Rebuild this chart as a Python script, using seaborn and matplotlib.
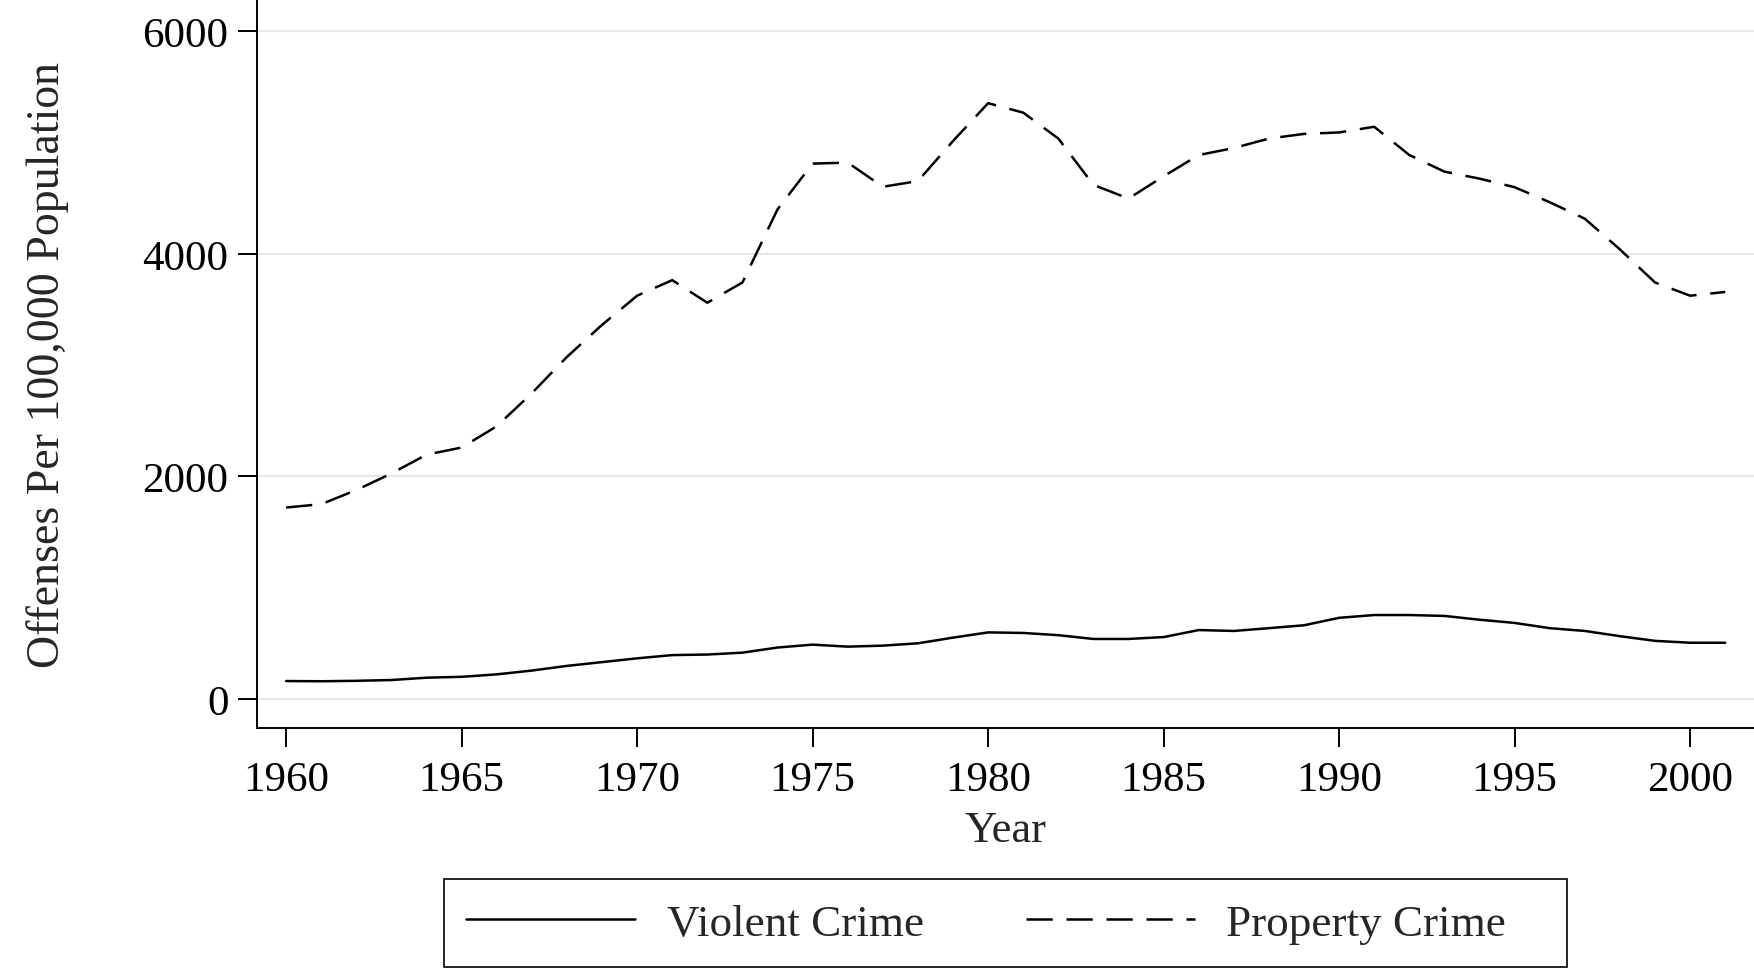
import matplotlib
import matplotlib.pyplot as plt
import pandas as pd
import seaborn as sns
from matplotlib.patches import Rectangle

matplotlib.use("Agg")

# --- DATA ---
YEARS = list(range(1960, 2002))

VIOLENT = [
    162, 160, 164, 171, 192, 200, 222, 256, 298, 332,
    366, 395, 400, 417, 463, 489, 471, 480, 501, 552,
    599, 594, 574, 540, 540, 557, 620, 612, 637, 663,
    730, 755, 755, 747, 713, 684, 637, 612, 565, 523,
    506, 506,
]

PROPERTY = [
    1721, 1751, 1878, 2027, 2196, 2260, 2451, 2748, 3074, 3362,
    3624, 3764, 3561, 3743, 4400, 4811, 4820, 4603, 4654, 5014,
    5354, 5269, 5036, 4620, 4497, 4697, 4888, 4951, 5036, 5078,
    5091, 5142, 4888, 4739, 4676, 4599, 4464, 4316, 4040, 3743,
    3624, 3658,
]

SERIES = ["Violent Crime", "Property Crime"]
Y_TICKS = [0, 2000, 4000, 6000]
X_TICKS = [1960, 1965, 1970, 1975, 1980, 1985, 1990, 1995, 2000]
# -------------------------------------

DASH = (10.5, 5.5)


def build_frame():
    rows = []
    for name, vals in zip(SERIES, [VIOLENT, PROPERTY]):
        for yr, v in zip(YEARS, vals):
            rows.append({"Year": yr, "Rate": v, "Series": name})
    return pd.DataFrame(rows)


def plot(df):
    sns.set_style("white")
    plt.rcParams["font.family"] = ["Liberation Serif", "DejaVu Serif"]

    fig = plt.figure(figsize=(17.54, 9.70), dpi=100)
    ax = fig.add_axes([257 / 1754, 1 - 729 / 970, 1 - 257 / 1754, 729 / 970])

    sns.lineplot(
        data=df,
        x="Year",
        y="Rate",
        style="Series",
        style_order=SERIES,
        dashes={"Violent Crime": "", "Property Crime": DASH},
        color="black",
        linewidth=1.8,
        ax=ax,
        legend=False,
    )

    ax.set_xlim(1959.17, 2001.82)
    ax.set_ylim(-260, 6290)
    ax.set_xticks(X_TICKS)
    ax.set_yticks(Y_TICKS)
    ax.yaxis.grid(True, color="#e8e8e8", linewidth=1.6)
    ax.xaxis.grid(False)
    ax.set_axisbelow(True)

    for side in ["top", "right"]:
        ax.spines[side].set_visible(False)
    for side in ["left", "bottom"]:
        ax.spines[side].set_color("black")
        ax.spines[side].set_linewidth(1.4)

    ax.tick_params(axis="both", direction="out", length=13.5, width=1.4,
                   color="black", labelsize=31, labelcolor="black",
                   bottom=True, left=True)
    ax.tick_params(axis="x", pad=10)
    ax.tick_params(axis="y", pad=7)

    ax.set_xlabel("Year", fontsize=32, labelpad=8)
    ax.set_ylabel("Offenses Per 100,000 Population", fontsize=33, labelpad=53)

    handles = [
        plt.Line2D([], [], color="black", linewidth=1.8),
        plt.Line2D([], [], color="black", linewidth=1.8, dashes=DASH),
    ]
    fig.legend(
        handles,
        SERIES,
        loc="center left",
        bbox_to_anchor=(466 / 1754, 0.047),
        ncol=2,
        fontsize=32.5,
        frameon=False,
        handlelength=3.75,
        handletextpad=0.7,
        columnspacing=2.25,
        borderpad=0,
        borderaxespad=0,
    )
    # legend box, wider on the right like the original
    fig.patches.append(
        Rectangle((444 / 1754, 2.5 / 970), (1567 - 444) / 1754, 88 / 970,
                  transform=fig.transFigure, fill=False,
                  edgecolor="black", linewidth=1.2)
    )

    fig.savefig("out.png", dpi=100)


if __name__ == "__main__":
    plot(build_frame())
